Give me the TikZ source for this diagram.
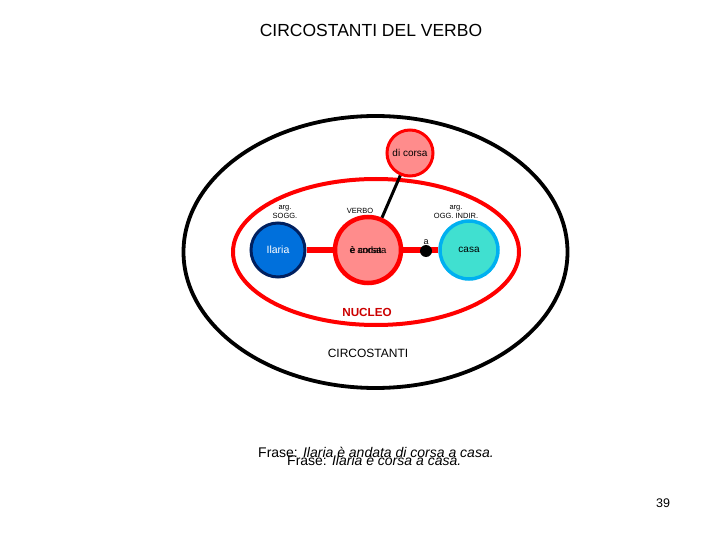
\documentclass[tikz,border=0pt]{standalone}
\usepackage{fontspec}
\setmainfont{Liberation Sans}
\definecolor{salmon}{RGB}{255,140,140}
\definecolor{myred}{RGB}{255,0,0}
\definecolor{ilfill}{RGB}{0,112,220}
\definecolor{ildraw}{RGB}{0,32,96}
\definecolor{casafill}{RGB}{64,224,208}
\definecolor{casadraw}{RGB}{0,176,240}
\definecolor{nucleo}{RGB}{204,0,0}
\begin{document}
\begin{tikzpicture}[x=1pt,y=-1pt,
  circ/.style={circle,inner sep=0pt,font=\fontsize{10}{11}\selectfont},
  small/.style={font=\fontsize{7.5}{8.5}\selectfont,align=center,inner sep=0pt},
  link/.style={myred,line width=6pt}]
\useasboundingbox[fill=white] (0,0) rectangle (720,540);
\node[font=\fontsize{17.5}{20}\selectfont] (title) at (371,30) {CIRCOSTANTI DEL VERBO};
% ellipses
\draw[line width=3.8pt] (375.5,252) ellipse [x radius=192, y radius=136];
\draw[myred,line width=4pt] (376,252) ellipse [x radius=143, y radius=73];
% nodes
\coordinate (dotc) at (426,251);
\node[circ,minimum size=54pt,fill=ilfill,draw=ildraw,line width=3pt,text=white,font=\fontsize{10.5}{12}\selectfont] (ilaria) at (278,250) {Ilaria};
\node[circ,minimum size=58pt,fill=casafill,draw=casadraw,line width=3.5pt] (casa) at (469,250) {casa};
\draw[link] (ilaria) -- (368,250);
\draw[link] (368,250) -- (casa);
\node[circ,minimum size=66pt,fill=salmon,draw=myred,line width=4.5pt] (verbo) at (368,250) {};
\node[circ,font=\fontsize{9.5}{11}\selectfont] (v1) at (368,250) {è andata};
\node[circ,font=\fontsize{9.5}{11}\selectfont] (v2) at (366,250) {è corsa};
\node[circle,fill=black,minimum size=12pt,inner sep=0pt] (dot) at (dotc) {};
\node[small,font=\fontsize{9}{10}\selectfont,anchor=south] (alab) at (426,245) {a};
\node[circ,minimum size=46pt,fill=salmon,draw=myred,line width=3pt] (dicorsa) at (410,153) {di corsa};
\draw[line width=3pt] (dicorsa) -- (verbo);
% labels
\node[small] (sogg) at (285,212) {arg.\\SOGG.};
\node[small] (vlab) at (360,211) {VERBO};
\node[small] (ogg) at (456,212) {arg.\\OGG. INDIR.};
\node[font=\bfseries\fontsize{11.7}{13}\selectfont,text=nucleo] (nuc) at (367,312) {NUCLEO};
\node[font=\fontsize{12}{14}\selectfont] (circ) at (368,353) {CIRCOSTANTI};
\node[font=\fontsize{14}{16}\selectfont,anchor=west,inner sep=0pt] (f1) at (258,452) {Frase: \textit{Ilaria è andata di corsa a casa.}};
\node[font=\fontsize{14}{16}\selectfont,anchor=west,inner sep=0pt] (f2) at (287,460) {Frase: \textit{Ilaria è corsa a casa.}};
\node[font=\fontsize{12.5}{14}\selectfont] (pg) at (663,503) {39};
\end{tikzpicture}
\end{document}
